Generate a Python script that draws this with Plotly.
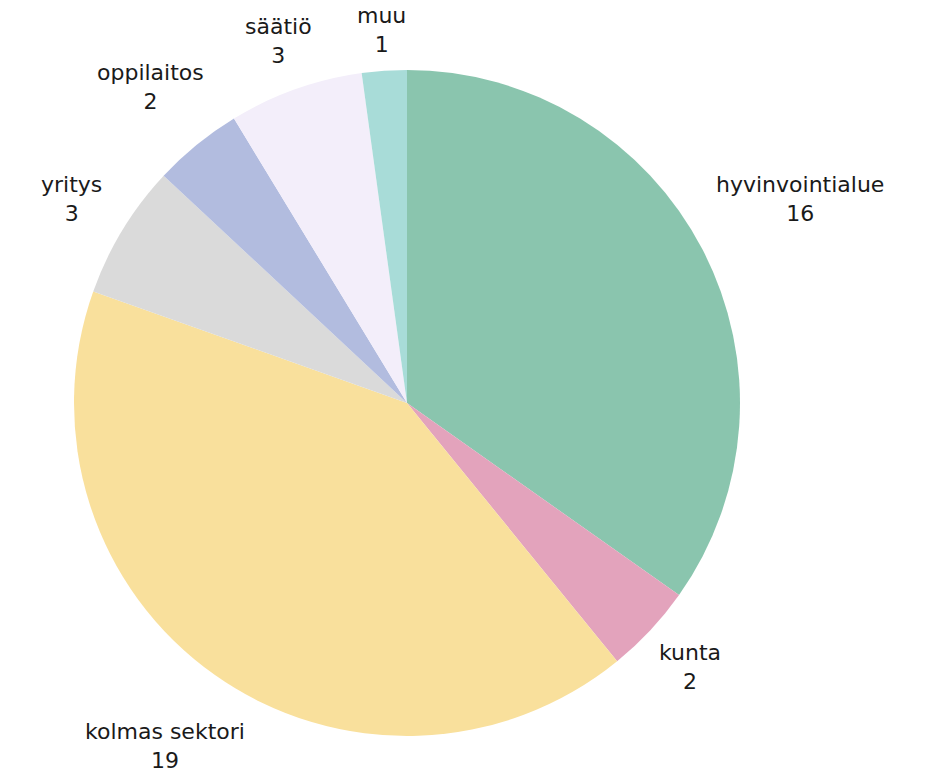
import math
import plotly.graph_objects as go

labels = ["hyvinvointialue", "kunta", "kolmas sektori", "yritys", "oppilaitos", "säätiö", "muu"]
values = [16, 2, 19, 3, 2, 3, 1]
colors = ["#8AC5AE", "#E3A3BC", "#F9E09C", "#DADADA", "#B2BCDF", "#F3EEFA", "#A8DCD8"]

W, H = 935, 770
OFF = 8  # page body margin
CX, CY, R = 407 - OFF, 403 - OFF, 333
FS = 22
GAP = 12
FONT = "DejaVu Sans"

fig = go.Figure(go.Pie(
    labels=labels, values=values, sort=False, direction="clockwise", rotation=0,
    marker=dict(colors=colors, line=dict(width=0)),
    textinfo="none", showlegend=False, hoverinfo="label+value",
    domain=dict(x=[(CX - R) / W, (CX + R) / W], y=[1 - (CY + R) / H, 1 - (CY - R) / H]),
))

total = sum(values)
cum = 0
for lab, v in zip(labels, values):
    mid = (cum + v / 2) / total * 2 * math.pi
    cum += v
    dx, dy = math.sin(mid), -math.cos(mid)
    half_w = max(len(lab), len(str(v))) * 6.4
    half_h = 28
    ext = half_w * abs(dx) + half_h * abs(dy)
    d = R + GAP + ext
    px, py = CX + d * dx, CY + d * dy
    fig.add_annotation(
        x=px / W, y=1 - py / H, xref="paper", yref="paper",
        text=f"{lab}<br>{v}", showarrow=False, xanchor="center", yanchor="middle",
        font=dict(family=FONT, size=FS, color="#1a1a1a"),
    )

fig.update_layout(width=W, height=H, margin=dict(l=0, r=0, t=0, b=0),
                  paper_bgcolor="white", plot_bgcolor="white")
fig.write_html("out.html")
